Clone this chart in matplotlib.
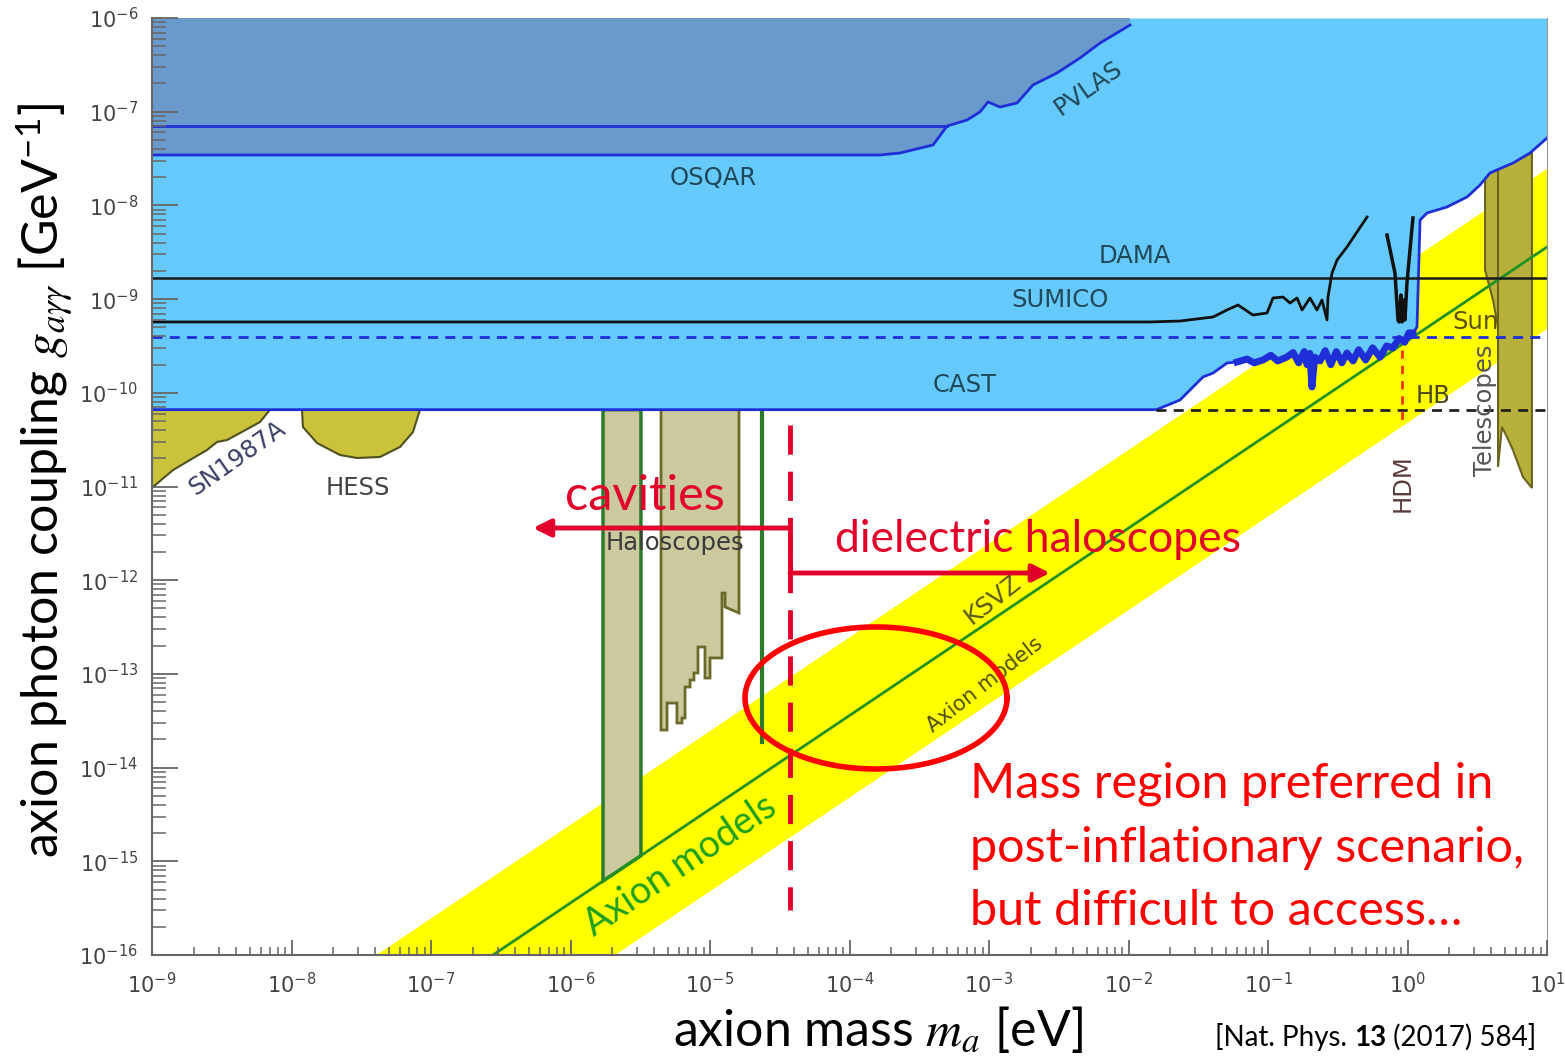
import numpy as np
import matplotlib.pyplot as plt
from matplotlib.ticker import FixedLocator, NullFormatter

plt.rcParams['mathtext.fontset'] = 'stix'

# all values are log10: mass in eV, coupling in GeV^-1
x_decades = list(range(-9, 2))
y_decades = list(range(-16, -5))

cast_lx = [-9.0, -1.80, -1.631, -1.466, -1.394, -1.294, -1.222, -1.15, -1.10, -1.036,
           -0.98, -0.93, -0.864, -0.82, -0.78, -0.74, -0.72, -0.70, -0.685, -0.665,
           -0.627, -0.59, -0.55, -0.51, -0.47, -0.434, -0.39, -0.35, -0.30, -0.25,
           -0.197, -0.15, -0.104, -0.06, -0.02, 0.01, 0.039, 0.068, 0.090, 0.140,
           0.283, 0.427, 0.520, 0.591, 0.756, 0.878, 1.0]
cast_ly = [-10.18, -10.18, -10.077, -9.831, -9.789, -9.682, -9.671, -9.64, -9.68, -9.65,
           -9.60, -9.66, -9.618, -9.57, -9.68, -9.56, -9.70, -9.58, -9.938, -9.62,
           -9.66, -9.55, -9.70, -9.56, -9.68, -9.575, -9.66, -9.54, -9.65, -9.52,
           -9.62, -9.50, -9.52, -9.42, -9.46, -9.36, -9.362, -9.298, -8.156, -8.081,
           -8.017, -7.910, -7.782, -7.654, -7.548, -7.441, -7.281]

pvlas_lx = [-9.0, -1.989, -1.989, -2.204, -2.348, -2.513, -2.685, -2.799, -2.921, -3.007,
            -3.065, -3.158, -3.301, -3.401, -3.638, -3.781, -9.0]
pvlas_ly = [-6.0, -6.0, -6.075, -6.267, -6.427, -6.587, -6.715, -6.907, -6.950, -6.896,
            -7.003, -7.089, -7.153, -7.355, -7.441, -7.462, -7.462]
pvlas_flat = -7.153

dama_g = -8.775
sun_g = -9.405
hb_g = -10.18

sumico_lx = [-9.0, -1.846, -1.631, -1.394, -1.294, -1.215, -1.108, -1.007, -0.964, -0.892,
             -0.842, -0.792, -0.756, -0.699, -0.649, -0.613, -0.577, -0.570, -0.541,
             -0.505, -0.434, -0.290]
sumico_ly = [-9.244, -9.244, -9.234, -9.191, -9.116, -9.063, -9.170, -9.148, -8.988, -8.978,
             -9.042, -8.988, -9.116, -8.988, -9.116, -9.010, -9.223, -8.978, -8.722,
             -8.583, -8.444, -8.124]

hdm_black_lx = [-0.147, -0.090, -0.068, -0.061, -0.047, -0.039, -0.025, -0.018, -0.004, 0.039]
hdm_black_ly = [-8.316, -8.721, -9.223, -9.244, -8.956, -9.244, -9.010, -9.223, -8.828, -8.134]
hdm_lx = -0.039
hdm_ly = [-9.54, -10.34]

band_lx = [-7.39, 1.0, 1.0, -5.68]
band_ly = [-16.0, -7.61, -9.32, -16.0]
ksvz_lx = [-6.556, 1.0]
ksvz_ly = [-16.0, -8.444]

sn_lx = [-9.0, -8.154, -8.226, -8.369, -8.462, -8.534, -8.606, -8.728, -8.849, -8.993, -9.0]
sn_ly = [-10.18, -10.18, -10.312, -10.429, -10.504, -10.525, -10.611, -10.717, -10.824, -11.005, -11.01]
hess_lx = [-7.925, -7.918, -7.817, -7.652, -7.530, -7.366, -7.222, -7.129, -7.079]
hess_ly = [-10.18, -10.365, -10.536, -10.664, -10.696, -10.685, -10.578, -10.418, -10.18]

halo1_lx = [-5.767, -5.495, -5.495, -5.767]
halo1_ly = [-10.18, -10.18, -14.94, -15.21]
halo2_lx = [-5.351, -5.351, -5.308, -5.308, -5.237, -5.237, -5.201, -5.201, -5.179, -5.179,
            -5.143, -5.143, -5.115, -5.115, -5.086, -5.086, -5.036, -5.036, -5.0, -5.0,
            -4.914, -4.914, -4.892, -4.892, -4.792, -4.792]
halo2_ly = [-10.18, -13.599, -13.599, -13.311, -13.311, -13.524, -13.524, -13.471, -13.471, -13.140,
            -13.140, -13.065, -13.065, -12.990, -12.990, -12.713, -12.713, -13.044, -13.044, -12.830,
            -12.830, -12.137, -12.137, -12.286, -12.350, -10.18]
halo3_lx = -4.627
halo3_ly = [-10.18, -13.727]

tele_lx = [0.556, 0.556, 0.613, 0.649, 0.649, 0.677, 0.713, 0.756, 0.828, 0.892, 0.892]
tele_ly = [-7.676, -8.689, -9.010, -9.298, -10.792, -10.365, -10.472, -10.611, -10.899, -11.016, -7.441]

divider_lx = -4.427
divider_ly = [-10.344, -15.52]
cav_arrow_lx = [-4.427, -6.269]
cav_arrow_ly = -11.443
diel_arrow_lx = [-4.427, -2.563]
diel_arrow_ly = [-11.60, -11.923]
ellipse_c = (-3.81, -13.257)
ellipse_r = (0.939, 0.758)


def p(v):
    return np.power(10.0, np.asarray(v, dtype=float))


light_blue = '#66c9fb'
dark_blue = '#6a9acb'
line_blue = '#1f2fd8'
yellow = '#ffff00'
red = '#e0002a'

fig = plt.figure(figsize=(15.65, 10.59), dpi=100)
ax = fig.add_axes([152 / 1565, 1 - 955 / 1059, 1395 / 1565, 937 / 1059])
ax.set_xscale('log')
ax.set_yscale('log')

ax.fill(p(band_lx), p(band_ly), color=yellow, lw=0, zorder=1)
ax.fill(p(tele_lx), p(tele_ly), facecolor='#b7b13c', edgecolor='#6b6420', lw=1.5, zorder=2)
ax.plot(p([0.649, 0.649]), p([-7.62, -9.298]), color='#6b6420', lw=1.5, zorder=2)
ax.fill(p(sn_lx), p(sn_ly), facecolor='#c9c23a', edgecolor='#4f5020', lw=1.5, zorder=2)
ax.fill(p(hess_lx), p(hess_ly), facecolor='#c9c23a', edgecolor='#4f5020', lw=1.5, zorder=2)
ax.fill(p(halo1_lx), p(halo1_ly), facecolor='#cbc99d', edgecolor='#2c7a2c', lw=2.5, zorder=2)
ax.fill(p(halo2_lx), p(halo2_ly), facecolor='#cbc99d', edgecolor='#6b6a2a', lw=2, zorder=2)
ax.plot(p([halo3_lx, halo3_lx]), p(halo3_ly), color='#2c7a2c', lw=3, zorder=2)

ax.plot(p(ksvz_lx), p(ksvz_ly), color='#239123', lw=2, zorder=3)

ax.fill_between(p(cast_lx), p(cast_ly), 1e-6, color=light_blue, lw=0, zorder=4)
ax.plot(p(cast_lx), p(cast_ly), color=line_blue, lw=2, zorder=6)
ax.plot(p(cast_lx[6:37]), p(cast_ly[6:37]), color=line_blue, lw=5, zorder=6)
ax.fill(p(pvlas_lx), p(pvlas_ly), color=dark_blue, lw=0, zorder=5)
ax.plot(p(pvlas_lx[2:16] + [-9.0]), p(pvlas_ly[2:16] + [-7.462]), color=line_blue, lw=2, zorder=6)
ax.plot(p([-9.0, -3.301]), p([pvlas_flat, pvlas_flat]), color=line_blue, lw=2, zorder=6)

ax.axhline(p(dama_g), color='#1a1a1a', lw=1.8, zorder=6)
ax.axhline(p(sun_g), color=line_blue, lw=2, ls=(0, (3.6, 2.6)), zorder=6)
ax.plot(p([-1.80, 1.0]), p([hb_g, hb_g]), color='#222222', lw=2, ls=(0, (3.6, 2.6)), zorder=6)
ax.plot(p(sumico_lx), p(sumico_ly), color='#111111', lw=2, zorder=6)
ax.plot(p(hdm_black_lx), p(hdm_black_ly), color='#111111', lw=2.5, zorder=6)
ax.plot(p([hdm_lx, hdm_lx]), p(hdm_ly), color='#ff3300', lw=2, ls=(0, (3, 2.5)), zorder=6)

# labels inside the plot
lab = dict(fontsize=17.5, family='DejaVu Sans', ha='center', va='center', zorder=7)
ax.text(p(-4.978), p(-7.708), 'OSQAR', color='#1f4858', **lab)
ax.text(p(-2.29), p(-6.75), 'PVLAS', color='#1f4858', rotation=35, **lab)
ax.text(p(-1.953), p(-8.54), 'DAMA', color='#1f4858', **lab)
ax.text(p(-2.491), p(-9.01), 'SUMICO', color='#1f4858', **lab)
ax.text(p(-3.172), p(-9.917), 'CAST', color='#1f4858', **lab)
ax.text(p(0.484), p(-9.244), 'Sun', color='#5c5012', **lab)
ax.text(p(0.183), p(-10.034), 'HB', color='#4c4a14', **lab)
ax.text(p(-0.032), p(-10.963), 'HDM', color='#5a3c3c', rotation=90, **lab)
ax.text(p(0.556), p(-10.184), 'Telescopes', color='#555555', rotation=90, **lab)
ax.text(p(-8.39), p(-10.70), 'SN1987A', color='#3a3f66', rotation=35, **lab)
ax.text(p(-7.523), p(-11.016), 'HESS', color='#444444', **lab)
ax.text(p(-5.251), p(-11.603), 'Haloscopes', color='#3a3a3a', **lab)
ax.text(p(-2.971), p(-12.211), 'KSVZ', color='#5a5a1a', rotation=38, **lab)
ax.text(p(-3.029), p(-13.118), 'Axion models', color='#4f4f14', rotation=38,
        fontsize=15, family='DejaVu Sans', ha='center', va='center', zorder=7)
ax.text(p(-5.215), p(-15.04), 'Axion models', color='#1fa01f', rotation=34,
        fontsize=27, family='Lato', ha='center', va='center', zorder=7)

# red annotations
ax.plot(p([divider_lx, divider_lx]), p(divider_ly), color=red, lw=3.5, ls=(0, (6, 3.5)), zorder=8)
ax.annotate('', xy=(p(cav_arrow_lx[1]), p(cav_arrow_ly)), xytext=(p(cav_arrow_lx[0]), p(cav_arrow_ly)),
            arrowprops=dict(arrowstyle='-|>', color=red, lw=3.5, mutation_scale=26, shrinkA=0, shrinkB=0),
            zorder=8)
ax.plot(p([divider_lx, divider_lx]), p(diel_arrow_ly), color=red, lw=3.5, zorder=8)
ax.annotate('', xy=(p(diel_arrow_lx[1]), p(diel_arrow_ly[1])), xytext=(p(diel_arrow_lx[0]), p(diel_arrow_ly[1])),
            arrowprops=dict(arrowstyle='-|>', color=red, lw=3.5, mutation_scale=26, shrinkA=0, shrinkB=0),
            zorder=8)
ax.text(p(-5.47), p(-11.1), 'cavities', color=red, fontsize=35, family='Lato',
        ha='center', va='center', zorder=8)
ax.text(p(-2.65), p(-11.57), 'dielectric haloscopes', color=red, fontsize=32, family='Lato',
        ha='center', va='center', zorder=8)
t = np.linspace(0, 2 * np.pi, 300)
ax.plot(p(ellipse_c[0] + ellipse_r[0] * np.cos(t)), p(ellipse_c[1] + ellipse_r[1] * np.sin(t)),
        color='#ff0000', lw=4, zorder=8)

for i, line in enumerate(['Mass region preferred in', 'post-inflationary scenario,',
                          'but difficult to access\u2026']):
    fig.text(970 / 1565, 1 - (798 + 63.5 * i) / 1059, line, color='#ff0000', fontsize=35,
             family='Lato', ha='left', va='baseline')

ax.set_xlim(1e-9, 1e1)
ax.set_ylim(1e-16, 1e-6)
for axis, dec in ((ax.xaxis, x_decades), (ax.yaxis, y_decades)):
    axis.set_major_locator(FixedLocator(p(dec)))
    minors = [k * 10.0 ** d for d in dec[:-1] for k in range(2, 10)]
    axis.set_minor_locator(FixedLocator(minors))
    axis.set_minor_formatter(NullFormatter())
    axis.set_zorder(9)
ax.tick_params(which='both', direction='in', color='#666666', labelcolor='#444444', labelsize=15)
ax.tick_params(axis='y', which='major', length=19, width=1.3, pad=10)
ax.tick_params(axis='y', which='minor', length=10, width=1.1)
ax.tick_params(axis='x', which='major', length=11, width=1.3, pad=12)
ax.tick_params(axis='x', which='minor', length=6, width=1.1)
ax.spines['top'].set_visible(False)
ax.spines['left'].set_color('#666666')
ax.spines['bottom'].set_color('#666666')
ax.spines['left'].set_linewidth(1.5)
ax.spines['bottom'].set_linewidth(1.5)
ax.spines['right'].set_color('#999999')
for s in ax.spines.values():
    s.set_zorder(9)

fig.text(45 / 1565, 1 - 480 / 1059, r'axion photon coupling $g_{a\gamma\gamma}$ [GeV$^{\mathdefault{-1}}$]',
         rotation=90, fontsize=36, family='Lato', ha='center', va='center')
fig.text(878 / 1565, 1 - 1030 / 1059, r'axion mass $m_a$ [eV]', fontsize=36, family='Lato',
         ha='center', va='center')

c1 = fig.text(1215 / 1565, 1 - 1046 / 1059, '[Nat. Phys. ', fontsize=20, family='Lato', va='baseline')
c2 = ax.annotate('13', xy=(1, 0), xycoords=c1, fontsize=20, family='Lato', fontweight='bold',
                 va='bottom', annotation_clip=False)
ax.annotate(' (2017) 584]', xy=(1, 0), xycoords=c2, fontsize=20, family='Lato',
            va='bottom', annotation_clip=False)

plt.savefig('out.png', dpi=100)
